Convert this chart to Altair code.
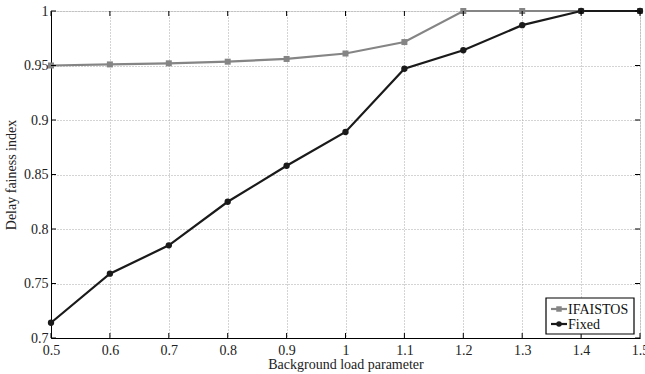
import altair as alt
import pandas as pd

load = [0.5, 0.6, 0.7, 0.8, 0.9, 1.0, 1.1, 1.2, 1.3, 1.4, 1.5]
ifaistos = [0.950, 0.951, 0.952, 0.9535, 0.956, 0.961, 0.9715, 1.0, 1.0, 1.0, 1.0]
fixed = [0.714, 0.759, 0.785, 0.825, 0.858, 0.889, 0.947, 0.964, 0.987, 1.0, 1.0]
series_names = ["IFAISTOS", "Fixed"]
series_colors = ["#858585", "#1a1a1a"]
series_shapes = ["square", "circle"]
x_ticks = [0.5, 0.6, 0.7, 0.8, 0.9, 1.0, 1.1, 1.2, 1.3, 1.4, 1.5]
y_ticks = [0.7, 0.75, 0.8, 0.85, 0.9, 0.95, 1.0]

W, H = 589, 327
FONT = "Liberation Serif"

df = pd.concat([
    pd.DataFrame({"x": load, "y": ifaistos, "s": "IFAISTOS"}),
    pd.DataFrame({"x": load, "y": fixed, "s": "Fixed"}),
])

xs = alt.Scale(domain=[0.5, 1.5], nice=False, zero=False)
ys = alt.Scale(domain=[0.7, 1.0], nice=False, zero=False)
cs = alt.Scale(domain=series_names, range=series_colors)

xaxis = alt.Axis(values=x_ticks, format="~g", grid=True, gridDash=[1, 2], gridColor="#a8a8a8",
                 gridWidth=1, tickSize=0, domainColor="black", labelFont=FONT, labelFontSize=14,
                 labelColor="#222", labelPadding=5, title="Background load parameter",
                 titleFont=FONT, titleFontSize=14, titleFontWeight="normal", titleColor="#222",
                 titlePadding=0, labelFlush=False)
yaxis = alt.Axis(values=y_ticks, format="~g", grid=True, gridDash=[1, 2], gridColor="#a8a8a8",
                 gridWidth=1, tickSize=0, domainColor="black", labelFont=FONT, labelFontSize=14,
                 labelColor="#222", labelPadding=3, title="Delay fainess index",
                 titleFont=FONT, titleFontSize=14, titleFontWeight="normal", titleColor="#222",
                 titlePadding=5, labelFlush=False)

lines = alt.Chart(df).mark_line(strokeWidth=2.2).encode(
    x=alt.X("x:Q", scale=xs, axis=xaxis),
    y=alt.Y("y:Q", scale=ys, axis=yaxis),
    color=alt.Color("s:N", scale=cs, legend=None),
    detail="s:N",
)
sq = alt.Chart(df[df.s == "IFAISTOS"]).mark_point(shape="square", filled=True, size=36, opacity=1).encode(
    x=alt.X("x:Q", scale=xs), y=alt.Y("y:Q", scale=ys),
    color=alt.Color("s:N", scale=cs, legend=None))
ci = alt.Chart(df[df.s == "Fixed"]).mark_point(shape="circle", filled=True, size=40, opacity=1).encode(
    x=alt.X("x:Q", scale=xs), y=alt.Y("y:Q", scale=ys),
    color=alt.Color("s:N", scale=cs, legend=None))

xt = pd.DataFrame({"t": x_ticks})
yt = pd.DataFrame({"t": y_ticks})
tick_bottom = alt.Chart(xt).mark_rule(color="black").encode(
    x=alt.X("t:Q", scale=xs), y=alt.value(H), y2=alt.value(H - 5))
tick_top = alt.Chart(xt).mark_rule(color="black").encode(
    x=alt.X("t:Q", scale=xs), y=alt.value(0), y2=alt.value(5))
tick_left = alt.Chart(yt).mark_rule(color="black").encode(
    y=alt.Y("t:Q", scale=ys), x=alt.value(0), x2=alt.value(5))
tick_right = alt.Chart(yt).mark_rule(color="black").encode(
    y=alt.Y("t:Q", scale=ys), x=alt.value(W), x2=alt.value(W - 5))

# legend (drawn inside the plot, bottom-right)
lx0, ly0 = 495, 287
one = pd.DataFrame({"a": [0]})
legend_layers = [alt.Chart(one).mark_rect(fill="white", stroke="black", strokeWidth=1.2).encode(
    x=alt.value(lx0), x2=alt.value(583), y=alt.value(ly0), y2=alt.value(323))]
for i, (name, col, shp) in enumerate(zip(series_names, series_colors, series_shapes)):
    yy = ly0 + 11 + 15 * i
    d = pd.DataFrame({"s": [name]})
    legend_layers.append(alt.Chart(d).mark_rule(strokeWidth=2.2, color=col).encode(
        x=alt.value(lx0 + 5), x2=alt.value(lx0 + 21), y=alt.value(yy)))
    legend_layers.append(alt.Chart(d).mark_point(shape=shp, filled=True, size=30, opacity=1, color=col).encode(
        x=alt.value(lx0 + 13), y=alt.value(yy)))
    legend_layers.append(alt.Chart(d).mark_text(align="left", baseline="middle", font=FONT, fontSize=14,
                                                color="#111").encode(
        x=alt.value(lx0 + 22), y=alt.value(yy + 1), text="s:N"))

chart = alt.layer(
    lines, sq, ci, tick_bottom, tick_top, tick_left, tick_right, *legend_layers
).properties(
    width=W, height=H,
    autosize=alt.AutoSizeParams(type="none"),
    padding={"left": 51, "top": 11, "right": 5, "bottom": 36},
).configure_view(stroke="black", strokeWidth=1.2).configure(background="white")

chart.save("out.html", embed_options={"renderer": "svg", "actions": False})
